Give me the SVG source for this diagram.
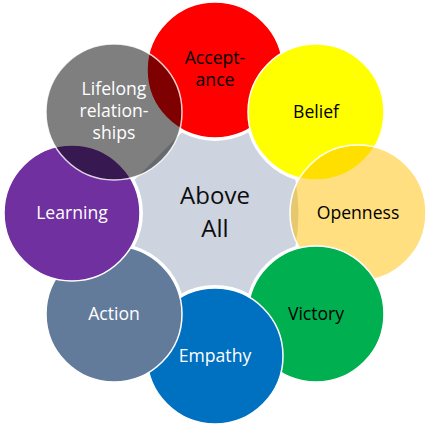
<svg xmlns="http://www.w3.org/2000/svg" width="429" height="425" viewBox="0 0 429 425">
<style>
.c{stroke:#fff;stroke-width:1.5}
.t{font-family:"Open Sans","Noto Sans",sans-serif;font-size:17.6px;text-anchor:middle}
.k{fill:#000}
.w{fill:#fff}
.big{font-family:"Open Sans","Noto Sans",sans-serif;font-size:24px;text-anchor:middle;fill:#0d0d0d}
</style>
<rect width="429" height="425" fill="#fff"/>
<g id="center">
<path fill="#CDD3DF" d="M181.71,132.62 A71,71 0 0 0 248.29,132.62 A71,71 0 0 0 295.38,179.71 A180,180 0 0 1 295.38,246.29 A71,71 0 0 0 248.29,293.38 A71,71 0 0 0 181.71,293.38 A71,71 0 0 0 134.62,246.29 A71,71 0 0 0 134.62,179.71 L181.71,132.62 Z"/>
<text class="big" x="215" y="204">Above</text>
<text class="big" x="215" y="236.5">All</text>
</g>
<g id="acceptance">
<circle class="c" cx="215" cy="70" r="68" fill="#FF0000"/>
<text class="t k" x="215" y="64.3">Accept-</text>
<text class="t k" x="215" y="86.3">ance</text>
</g>
<g id="belief">
<circle class="c" cx="316" cy="112" r="68" fill="#FFFF00"/>
<text class="t k" x="316" y="117.5">Belief</text>
</g>
<g id="openness">
<circle class="c" cx="358" cy="213" r="68" fill="#FFC000" fill-opacity="0.5"/>
<text class="t k" x="358" y="218.5">Openness</text>
</g>
<g id="victory">
<circle class="c" cx="316" cy="314" r="68" fill="#00B050"/>
<text class="t k" x="316" y="320">Victory</text>
</g>
<g id="empathy">
<circle class="c" cx="215" cy="356" r="68" fill="#0070C0"/>
<text class="t w" x="215" y="361.7">Empathy</text>
</g>
<g id="action">
<circle class="c" cx="114" cy="314" r="68" fill="#637B9B"/>
<text class="t w" x="114" y="320">Action</text>
</g>
<g id="learning">
<circle class="c" cx="72" cy="213" r="68" fill="#7030A0"/>
<text class="t w" x="72" y="218.5">Learning</text>
</g>
<g id="lifelong">
<circle class="c" cx="114" cy="112" r="68" fill="#000" fill-opacity="0.5" stroke-opacity="0.8"/>
<text class="t w" x="114" y="95">Lifelong</text>
<text class="t w" x="114" y="117">relation-</text>
<text class="t w" x="114" y="139">ships</text>
</g>
</svg>
